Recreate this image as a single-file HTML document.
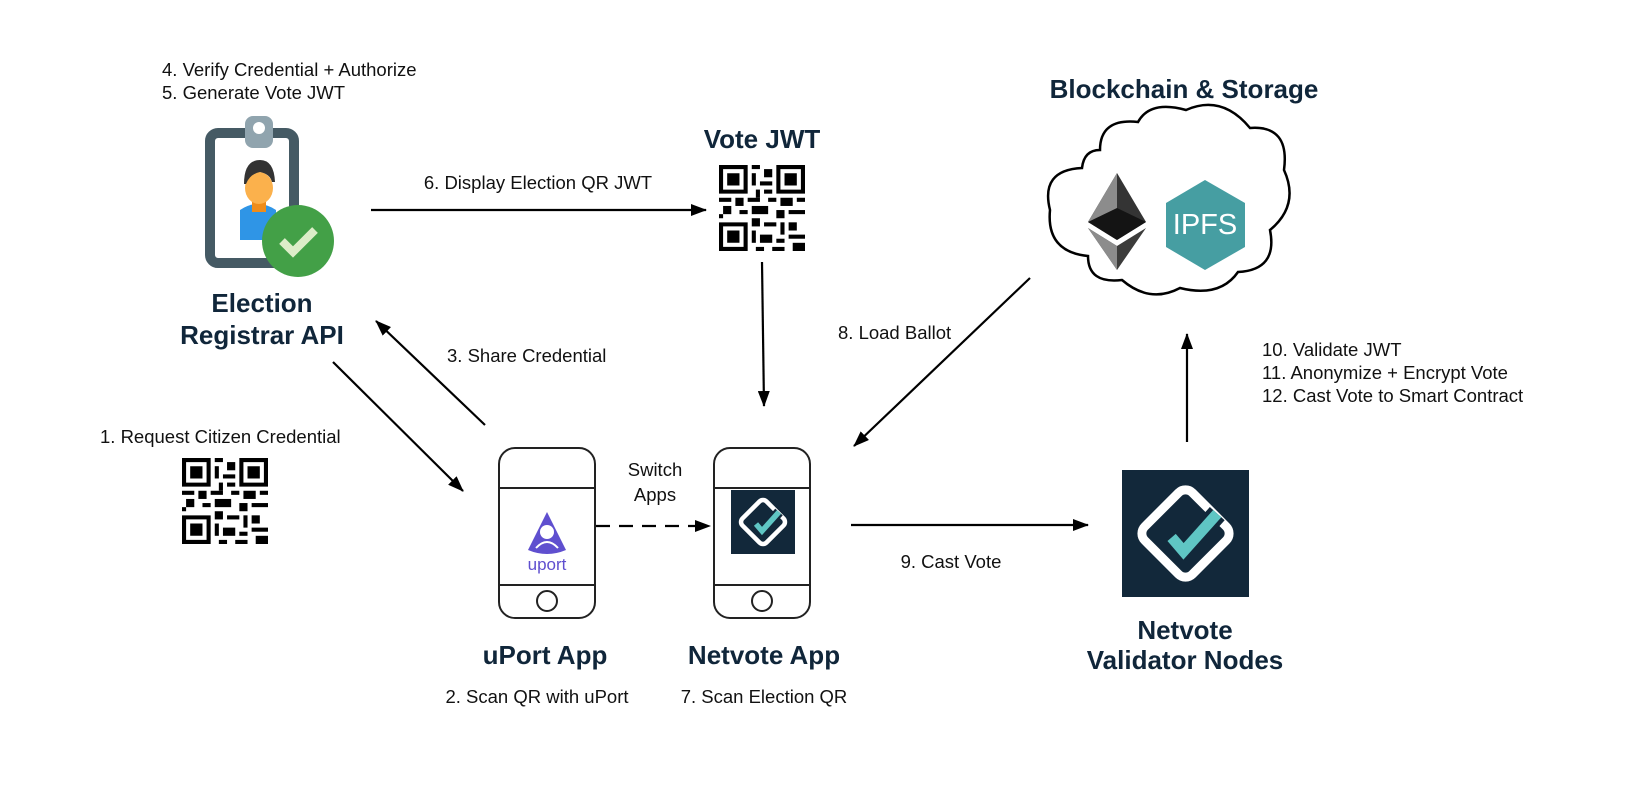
<!DOCTYPE html>
<html><head><meta charset="utf-8"><style>
html,body{margin:0;padding:0;background:#fff;}
svg{display:block;font-family:"Liberation Sans",Arial,sans-serif;}
.t{font-size:18.5px;fill:#111;}
.b{font-size:26px;font-weight:bold;fill:#10263a;}
</style></head><body>
<svg width="1634" height="806" viewBox="0 0 1634 806" xmlns="http://www.w3.org/2000/svg">
<defs>
<marker id="ah" markerWidth="16" markerHeight="12" refX="15" refY="6" orient="auto" markerUnits="userSpaceOnUse" viewBox="0 0 16 12">
<path d="M0,0 L16,6 L0,12 z" fill="#000"/></marker>
<symbol id="qr" viewBox="0 0 21 21">
<g fill="#000">
<path d="M0,0h7v7h-7z M1,1v5h5v-5z M2,2h3v3h-3z" fill-rule="evenodd"/>
<path d="M14,0h7v7h-7z M15,1v5h5v-5z M16,2h3v3h-3z" fill-rule="evenodd"/>
<path d="M0,14h7v7h-7z M1,15v5h5v-5z M2,16h3v3h-3z" fill-rule="evenodd"/>
<rect x="8" y="0" width="2" height="1"/><rect x="11" y="1" width="2" height="2"/><rect x="8" y="2" width="1" height="3"/>
<rect x="10" y="4" width="3" height="1"/><rect x="9" y="6" width="1" height="2"/><rect x="11" y="6" width="2" height="1"/>
<rect x="0" y="8" width="3" height="1"/><rect x="4" y="8" width="2" height="2"/><rect x="1" y="10" width="2" height="2"/>
<rect x="7" y="8" width="3" height="1"/><rect x="8" y="10" width="4" height="2"/><rect x="12" y="8" width="2" height="1"/>
<rect x="15" y="8" width="3" height="2"/><rect x="19" y="8" width="2" height="1"/><rect x="14" y="11" width="2" height="2"/>
<rect x="17" y="11" width="4" height="1"/><rect x="5" y="11" width="2" height="1"/><rect x="0" y="12" width="1" height="1"/>
<rect x="8" y="13" width="2" height="2"/><rect x="11" y="14" width="3" height="1"/><rect x="15" y="14" width="1" height="3"/>
<rect x="17" y="14" width="2" height="2"/><rect x="8" y="16" width="1" height="3"/><rect x="10" y="17" width="3" height="2"/>
<rect x="14" y="18" width="2" height="1"/><rect x="17" y="17" width="4" height="1"/><rect x="18" y="19" width="3" height="2"/>
<rect x="9" y="20" width="2" height="1"/><rect x="13" y="20" width="3" height="1"/>
</g></symbol>
<symbol id="nv" viewBox="0 0 64 64">
<rect width="64" height="64" fill="#12283a"/>
<rect x="15" y="15" width="34" height="34" rx="5" transform="rotate(45 32 32)" fill="none" stroke="#fff" stroke-width="4.5"/>
<path d="M25,34 L31,41 L48,22" fill="none" stroke="#12283a" stroke-width="10"/>
<path d="M25,34 L31,41 L48,22" fill="none" stroke="#5fc6c4" stroke-width="5.5"/>
</symbol>
</defs>

<!-- Clipboard -->
<rect x="210" y="133" width="84" height="130" rx="8" fill="#fff" stroke="#455a64" stroke-width="10"/>
<rect x="245" y="116" width="28" height="32" rx="8" fill="#90a4ae"/>
<circle cx="259" cy="128" r="6" fill="#fff"/>
<path d="M240,210 q18,-12 36,0 v30 h-36z" fill="#2f95e6"/>
<rect x="252" y="200" width="14" height="12" fill="#ef8c1a"/>
<ellipse cx="259" cy="188" rx="14" ry="16" fill="#fbb14c"/>
<path d="M244,184 q0,-24 16,-24 q14,0 15,22 l-3,0 q-2,-8 -12,-10 q-10,2 -14,12z" fill="#333"/>
<circle cx="298" cy="241" r="36" fill="#43a047"/>
<path d="M282,241 l11,11 l22,-22" fill="none" stroke="#dcedc8" stroke-width="8"/>

<text class="t" x="162" y="76">4. Verify Credential + Authorize</text>
<text class="t" x="162" y="99">5. Generate Vote JWT</text>
<text class="b" x="262" y="312" text-anchor="middle">Election</text>
<text class="b" x="262" y="344" text-anchor="middle">Registrar API</text>

<!-- Vote JWT -->
<text class="b" x="762" y="148" text-anchor="middle" font-size="24">Vote JWT</text>
<use href="#qr" x="719" y="165" width="86" height="86"/>
<line x1="371" y1="210" x2="706" y2="210" stroke="#000" stroke-width="2.2" marker-end="url(#ah)"/>
<text class="t" x="538" y="189" text-anchor="middle">6. Display Election QR JWT</text>
<line x1="762" y1="262" x2="764" y2="406" stroke="#000" stroke-width="2.2" marker-end="url(#ah)"/>

<!-- arrows 3,1 -->
<line x1="485" y1="425" x2="376" y2="321" stroke="#000" stroke-width="2.2" marker-end="url(#ah)"/>
<text class="t" x="447" y="362">3. Share Credential</text>
<line x1="333" y1="362" x2="463" y2="491" stroke="#000" stroke-width="2.2" marker-end="url(#ah)"/>
<text class="t" x="100" y="443">1. Request Citizen Credential</text>
<use href="#qr" x="182" y="458" width="86" height="86"/>

<!-- phones -->
<g fill="#fff" stroke="#222" stroke-width="2">
<rect x="499" y="448" width="96" height="170" rx="16"/>
<line x1="499" y1="488" x2="595" y2="488"/><line x1="499" y1="585" x2="595" y2="585"/>
<circle cx="547" cy="601" r="10"/>
<rect x="714" y="448" width="96" height="170" rx="16"/>
<line x1="714" y1="488" x2="810" y2="488"/><line x1="714" y1="585" x2="810" y2="585"/>
<circle cx="762" cy="601" r="10"/>
</g>
<path d="M547,512 L566,550 Q547,558 528,550 Z" fill="#5f4fcf"/>
<circle cx="547" cy="532" r="7" fill="#fff"/>
<path d="M536,548 q11,-12 22,0" fill="none" stroke="#fff" stroke-width="2"/>
<text x="547" y="570" text-anchor="middle" font-size="17" fill="#5f4fcf">uport</text>
<use href="#nv" x="731" y="490" width="64" height="64"/>
<text class="t" x="655" y="476" text-anchor="middle">Switch</text>
<text class="t" x="655" y="501" text-anchor="middle">Apps</text>
<line x1="596" y1="526" x2="710" y2="526" stroke="#000" stroke-width="2.2" stroke-dasharray="14,9" marker-end="url(#ah)"/>
<text class="b" x="545" y="664" text-anchor="middle">uPort App</text>
<text class="t" x="537" y="703" text-anchor="middle">2. Scan QR with uPort</text>
<text class="b" x="764" y="664" text-anchor="middle">Netvote App</text>
<text class="t" x="764" y="703" text-anchor="middle">7. Scan Election QR</text>

<!-- cloud -->
<text class="b" x="1184" y="98" text-anchor="middle">Blockchain &amp; Storage</text>
<path d="M1100,150 Q1100,118 1138,122 Q1150,100 1186,110 Q1222,94 1250,128 Q1290,125 1284,170 Q1300,205 1270,230 Q1278,270 1238,272 Q1220,298 1180,288 Q1150,304 1122,280 Q1088,284 1088,256 Q1046,252 1050,210 Q1040,170 1082,168 Q1084,150 1100,150 Z" fill="#fff" stroke="#000" stroke-width="2.5"/>
<polygon points="1117,173 1146,222 1117,240 1088,222" fill="#343434"/>
<polygon points="1117,173 1117,240 1088,222" fill="#8c8c8c"/>
<polygon points="1117,208 1146,222 1117,240 1088,222" fill="#141414"/>
<polygon points="1088,228 1117,246 1146,228 1117,270" fill="#3c3c3b"/>
<polygon points="1088,228 1117,246 1117,270" fill="#8c8c8c"/>
<polygon points="1205,180 1245,203 1245,247 1205,270 1166,247 1166,203" fill="#469ea2"/>
<text x="1205" y="234" text-anchor="middle" font-size="29" fill="#fff">IPFS</text>

<line x1="1030" y1="278" x2="854" y2="446" stroke="#000" stroke-width="2.2" marker-end="url(#ah)"/>
<text class="t" x="838" y="339">8. Load Ballot</text>
<line x1="1187" y1="442" x2="1187" y2="334" stroke="#000" stroke-width="2.2" marker-end="url(#ah)"/>
<text class="t" x="1262" y="356">10. Validate JWT</text>
<text class="t" x="1262" y="379">11. Anonymize + Encrypt Vote</text>
<text class="t" x="1262" y="402">12. Cast Vote to Smart Contract</text>
<line x1="851" y1="525" x2="1088" y2="525" stroke="#000" stroke-width="2.2" marker-end="url(#ah)"/>
<text class="t" x="951" y="568" text-anchor="middle">9. Cast Vote</text>
<use href="#nv" x="1122" y="470" width="127" height="127"/>
<text class="b" x="1185" y="639" text-anchor="middle">Netvote</text>
<text class="b" x="1185" y="669" text-anchor="middle">Validator Nodes</text>
</svg>
</body></html>
